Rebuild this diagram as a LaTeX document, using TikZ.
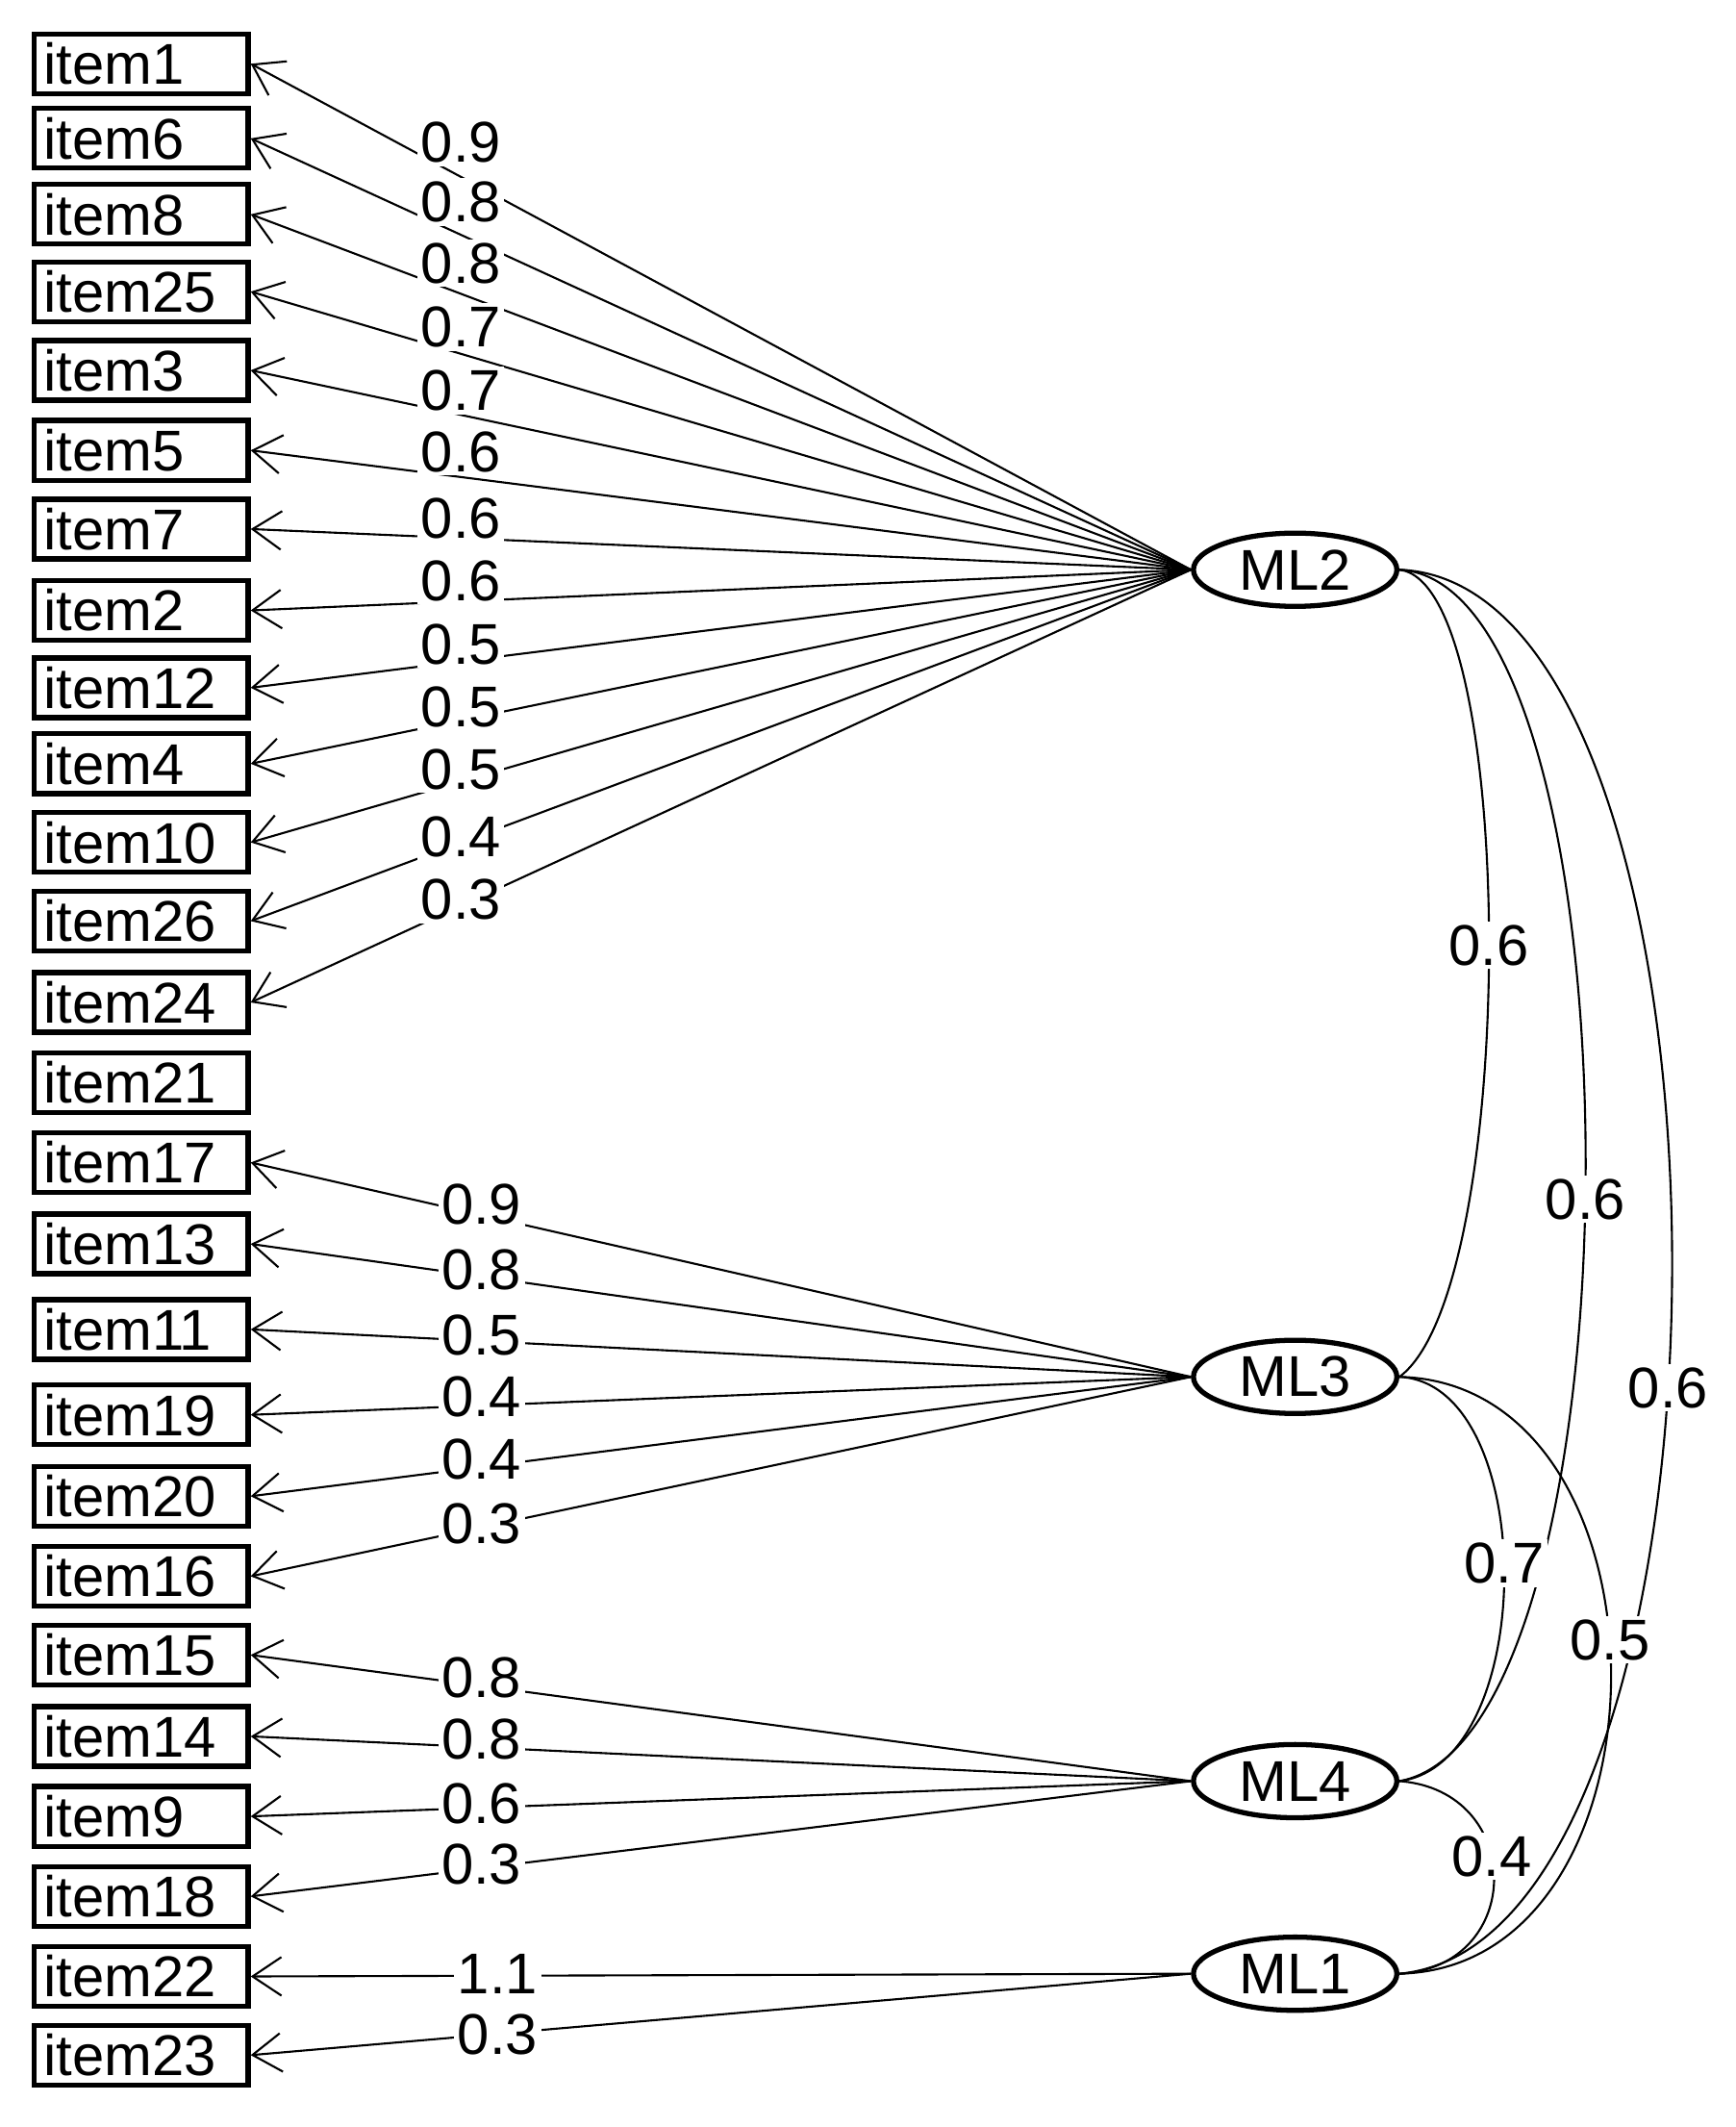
\documentclass[tikz,border=0pt]{standalone}
\usepackage{fontspec}
\setmainfont{Liberation Sans}
\usetikzlibrary{arrows.meta,shapes.geometric}
\begin{document}
\begin{tikzpicture}[x=0.0141cm,y=-0.0141cm,
 item/.style={draw,line width=1.5pt,minimum width=158*0.0141cm,minimum height=44*0.0141cm,inner sep=0pt,font=\fontsize{17}{20}\selectfont,text width=144*0.0141cm,align=left},
 lat/.style={draw,ellipse,line width=1.5pt,minimum width=150*0.0141cm,minimum height=54*0.0141cm,inner sep=0pt,font=\fontsize{17}{20}\selectfont},
 ld/.style={line width=0.6pt,-{Straight Barb[length=0.3cm,width=0.4cm]}},
 lab/.style={fill=white,inner sep=1pt,font=\fontsize{17}{20}\selectfont},
 cv/.style={line width=0.6pt}]
\useasboundingbox (0,0) rectangle (1280,1568);
\foreach \n/\y in {1/47,6/102,8/158,25/215,3/273,5/332,7/390,2/450,12/507,4/563,10/621,26/679,24/739,21/798,17/857,13/917,11/980,19/1043,20/1103,16/1162,15/1220,14/1280,9/1339,18/1398,22/1457,23/1515}
  \node[item] (i\n) at (104,\y) {item\n};
\node[lat] (ML2) at (955,420) {ML2};
\node[lat] (ML3) at (955,1015) {ML3};
\node[lat] (ML4) at (955,1313) {ML4};
\node[lat] (ML1) at (955,1455) {ML1};
\foreach \n/\v/\ly in {1/0.9/105,6/0.8/149,8/0.8/194,25/0.7/241,3/0.7/288,5/0.6/333,7/0.6/382,2/0.6/428,12/0.5/475,4/0.5/521,10/0.5/567,26/0.4/617,24/0.3/663}
  {\draw[ld] (ML2.west) -- (i\n.east);
   \node[lab] (l\n) at (340,\ly) {\v};}
\foreach \n/\v/\ly in {17/0.9/888,13/0.8/936,11/0.5/984,19/0.4/1030,20/0.4/1076,16/0.3/1123}
  {\draw[ld] (ML3.west) -- (i\n.east);
   \node[lab] (l\n) at (355,\ly) {\v};}
\foreach \n/\v/\ly in {15/0.8/1237,14/0.8/1282,9/0.6/1330,18/0.3/1374}
  {\draw[ld] (ML4.west) -- (i\n.east);
   \node[lab] (l\n) at (355,\ly) {\v};}
\foreach \n/\v/\ly in {22/1.1/1455,23/0.3/1500}
  {\draw[ld] (ML1.west) -- (i\n.east);
   \node[lab] (l\n) at (367,\ly) {\v};}
\draw[cv] (ML2.east) .. controls (1120,430) and (1120,950) .. (ML3.east) node[lab,pos=0.5] {0.6};
\draw[cv] (ML2.east) .. controls (1215,430) and (1215,1280) .. (ML4.east) node[lab,pos=0.52] {0.6};
\draw[cv] (ML2.east) .. controls (1300,430) and (1300,1430) .. (ML1.east) node[lab,pos=0.56] {0.6};
\draw[cv] (ML3.east) .. controls (1135,1020) and (1135,1300) .. (ML4.east) node[lab,pos=0.48] {0.7};
\draw[cv] (ML3.east) .. controls (1240,1020) and (1240,1450) .. (ML1.east) node[lab,pos=0.46] {0.5};
\draw[cv] (ML4.east) .. controls (1125,1320) and (1125,1450) .. (ML1.east) node[lab,pos=0.42] {0.4};
\end{tikzpicture}
\end{document}
